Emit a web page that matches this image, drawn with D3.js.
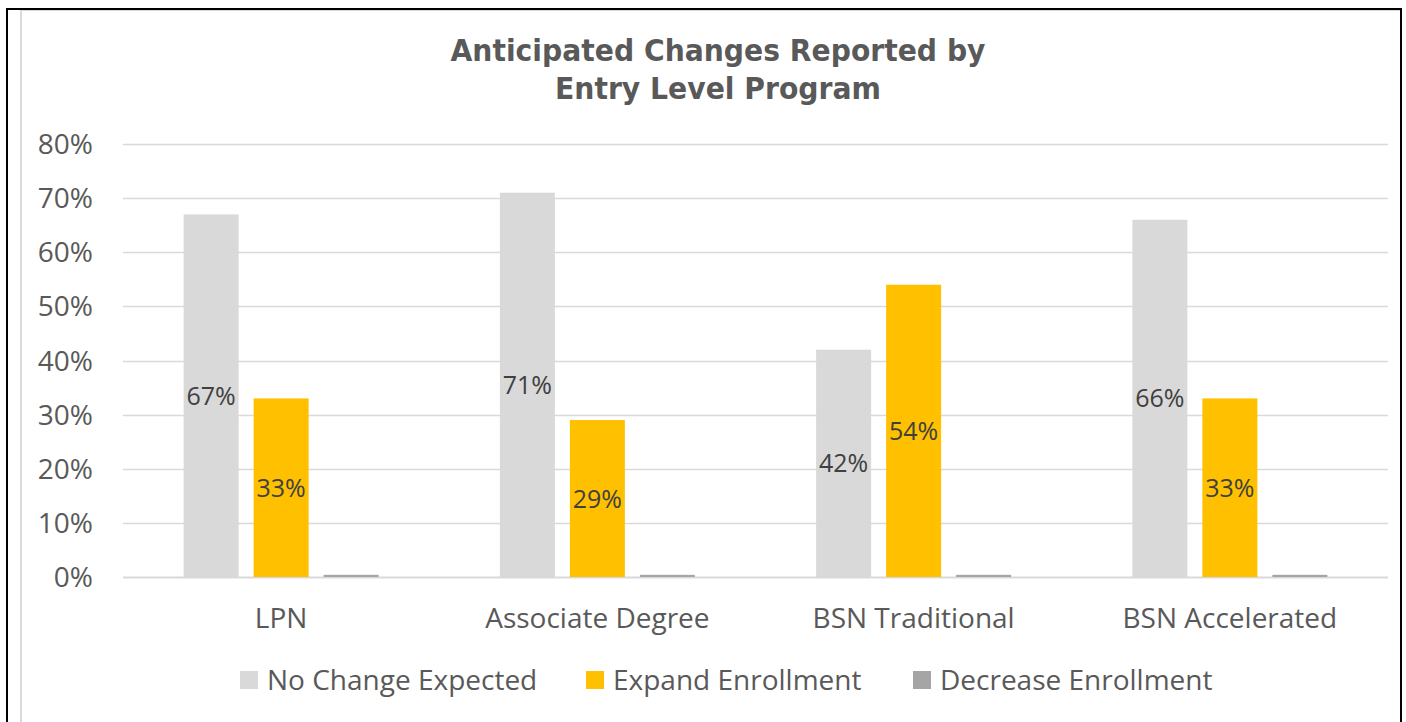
<!DOCTYPE html>
<html><head><meta charset="utf-8">
<script src="https://cdn.jsdelivr.net/npm/d3@7"></script>
<style>html,body{margin:0;padding:0;background:#fff;}svg{display:block;}</style>
</head><body>
<script>
const categories = ["LPN", "Associate Degree", "BSN Traditional", "BSN Accelerated"];
const seriesNames = ["No Change Expected", "Expand Enrollment", "Decrease Enrollment"];
const noChange = [67, 71, 42, 66];
const expand = [33, 29, 54, 33];
const decrease = [0.4, 0.4, 0.4, 0.4];
const yTicks = [0, 10, 20, 30, 40, 50, 60, 70, 80];
const titleLines = ["Anticipated Changes Reported by", "Entry Level Program"];

const colors = ["#d9d9d9", "#ffc000", "#a5a5a5"];
const seriesVals = [noChange, expand, decrease];
const showLabels = [true, true, false];

const W = 1406, H = 722;
const svg = d3.select("body").append("svg").attr("width", W).attr("height", H);
const font = "'Open Sans', 'Noto Sans', sans-serif";

// frames
svg.append("rect").attr("x", 21).attr("y", 10).attr("width", 1380).attr("height", 730)
  .attr("fill", "#fff").attr("stroke", "#d9d9d9").attr("stroke-width", 2);
svg.append("path").attr("d", "M7,740 V9 H1401 V740").attr("fill", "none")
  .attr("stroke", "#000").attr("stroke-width", 2);

const plot = {left: 123, right: 1388, top: 144, bottom: 577};
const y = d3.scaleLinear().domain([0, 80]).range([plot.bottom, plot.top]);
const x0 = d3.scaleBand().domain(categories).range([plot.left, plot.right]).paddingInner(0).paddingOuter(0);
const groupW = 195;
const x1 = d3.scaleBand().domain(d3.range(3)).range([0, groupW]).paddingInner(15/70).paddingOuter(0);

// gridlines
svg.append("g").selectAll("line").data(yTicks).join("line")
  .attr("x1", plot.left).attr("x2", plot.right)
  .attr("y1", d => Math.round(y(d)) + 0.5).attr("y2", d => Math.round(y(d)) + 0.5)
  .attr("stroke", "#d9d9d9").attr("stroke-width", d => d === 0 ? 2 : 1.3);

// y labels
svg.append("g").selectAll("text").data(yTicks).join("text")
  .attr("x", 93).attr("y", d => y(d)).attr("dy", "0.36em")
  .attr("text-anchor", "end").attr("font-family", font).attr("font-size", 28)
  .attr("fill", "#595959").text(d => d + "%");

// bars
const groups = svg.append("g").selectAll("g").data(categories).join("g")
  .attr("transform", c => `translate(${x0(c) + (x0.bandwidth() - groupW) / 2},0)`);
groups.each(function(c, ci) {
  const g = d3.select(this);
  seriesVals.forEach((vals, si) => {
    g.append("rect").attr("x", x1(si)).attr("width", x1.bandwidth())
      .attr("y", y(vals[ci])).attr("height", y(0) - y(vals[ci])).attr("fill", colors[si]);
    if (showLabels[si]) {
      g.append("text").attr("x", x1(si) + x1.bandwidth() / 2)
        .attr("y", (y(vals[ci]) + y(0)) / 2).attr("dy", "0.36em")
        .attr("text-anchor", "middle").attr("font-family", font).attr("font-size", 25)
        .attr("fill", "#404040").text(vals[ci] + "%");
    }
  });
});

// category labels
svg.append("g").selectAll("text").data(categories).join("text")
  .attr("x", c => x0(c) + x0.bandwidth() / 2).attr("y", 618).attr("dy", "0.36em")
  .attr("text-anchor", "middle").attr("font-family", font).attr("font-size", 28)
  .attr("fill", "#595959").text(c => c);

// title
const titleLen = [535, 326];
svg.append("g").selectAll("text").data(titleLines).join("text")
  .attr("x", 718).attr("y", (d, i) => 50 + i * 38).attr("dy", "0.36em")
  .attr("text-anchor", "middle").attr("font-family", "'DejaVu Sans', sans-serif").attr("font-weight", "bold")
  .attr("font-size", 31).attr("fill", "#595959")
  .attr("textLength", (d, i) => titleLen[i]).attr("lengthAdjust", "spacingAndGlyphs")
  .text(d => d);

// legend
const legX = [240, 586, 913];
const leg = svg.append("g").selectAll("g").data(seriesNames).join("g")
  .attr("transform", (d, i) => `translate(${legX[i]},680)`);
leg.append("rect").attr("x", 0).attr("y", -9).attr("width", 18).attr("height", 18)
  .attr("fill", (d, i) => colors[i]);
leg.append("text").attr("x", 27).attr("y", 0).attr("dy", "0.36em")
  .attr("font-family", font).attr("font-size", 28).attr("fill", "#595959").text(d => d);
</script>
</body></html>
